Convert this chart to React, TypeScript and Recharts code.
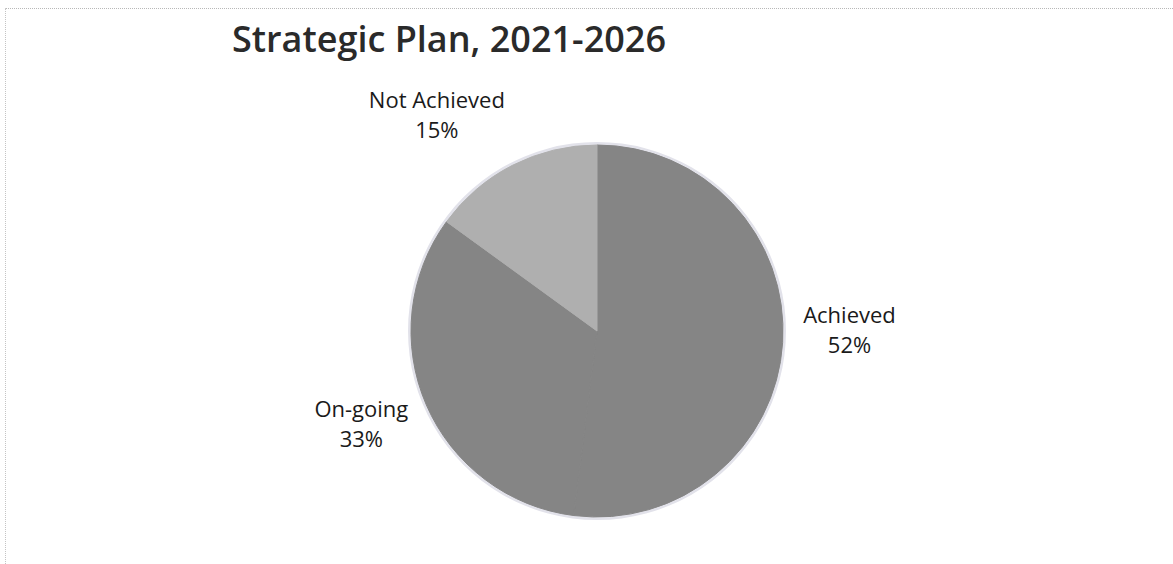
import React from "react"
import { PieChart, Pie, Cell } from "recharts"

const categories = ["Achieved", "On-going", "Not Achieved"]
const shares = [52, 33, 15]
const sliceColors = ["#858585", "#858585", "#afafaf"]
// small nudges so labels sit where Excel's best-fit put them
const labelNudge = [
  [6, -16],
  [-9, -4],
  [-48, 5],
]

const data = categories.map((name, i) => ({ name, value: shares[i] }))

const RAD = Math.PI / 180

const renderLabel = (props: any) => {
  const { cx, cy, midAngle, outerRadius, index, name, value } = props
  const r = outerRadius + 61
  const x = cx + r * Math.cos(-midAngle * RAD) + labelNudge[index][0]
  const y = cy + r * Math.sin(-midAngle * RAD) + labelNudge[index][1]
  return (
    <text
      x={x}
      y={y}
      textAnchor="middle"
      fill="#1a1a1a"
      fontFamily="'Open Sans', sans-serif"
      fontSize={22}
    >
      <tspan x={x} dy={-8}>{name}</tspan>
      <tspan x={x} dy={30}>{value}%</tspan>
    </text>
  )
}

export default function App() {
  return (
    <div style={{ position: "relative", width: 1173, height: 564, background: "#fff" }}>
      <style>{"body{margin:0}"}</style>
      <div
        style={{
          position: "absolute",
          left: 5,
          top: 8,
          right: 0,
          bottom: 0,
          borderTop: "1px dotted #b8b8b8",
          borderLeft: "1px dotted #c4c4c4",
        }}
      />
      <div
        style={{
          position: "absolute",
          left: 232,
          top: 14,
          fontFamily: "'Open Sans', sans-serif",
          fontWeight: 600,
          fontSize: 36,
          lineHeight: "normal",
          color: "#2a2a2a",
          whiteSpace: "nowrap",
        }}
      >
        Strategic Plan, 2021-2026
      </div>
      <PieChart
        width={1173}
        height={564}
        margin={{ top: 0, right: 0, bottom: 0, left: 0 }}
        style={{ position: "absolute", left: 0, top: 0 }}
      >
        <Pie
          data={[{ name: "rim", value: 1 }]}
          dataKey="value"
          cx={597}
          cy={331}
          innerRadius={185}
          outerRadius={189}
          fill="#e2e2ea"
          stroke="none"
          isAnimationActive={false}
        />
        <Pie
          data={data}
          dataKey="value"
          cx={597}
          cy={331}
          outerRadius={186}
          startAngle={90}
          endAngle={-270}
          strokeWidth={1}
          label={renderLabel}
          labelLine={false}
          isAnimationActive={false}
        >
          {data.map((entry, index) => (
            <Cell key={`cell-${index}`} fill={sliceColors[index]} stroke={sliceColors[index]} />
          ))}
        </Pie>
      </PieChart>
    </div>
  )
}
